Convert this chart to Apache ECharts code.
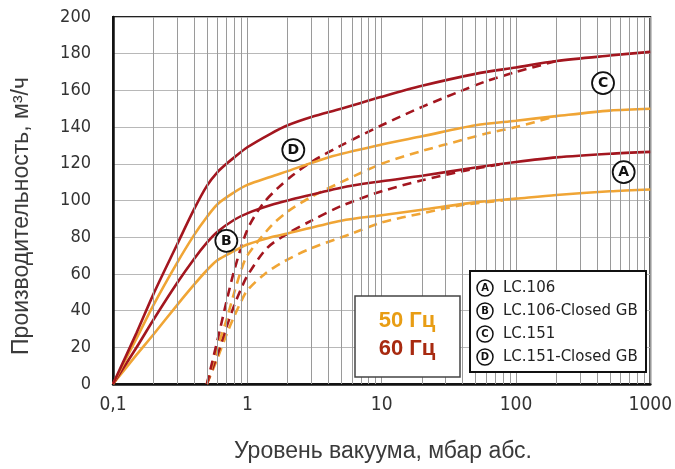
<!DOCTYPE html>
<html>
<head>
<meta charset="utf-8">
<script src="https://cdn.jsdelivr.net/npm/echarts@6.0.0/dist/echarts.min.js"></script>
<style>
    html, body { margin: 0; padding: 0; background: #fff; }
    #main { width: 675px; height: 469px; }
</style>
</head>
<body>
<div id="main"></div>
<script>
    // кривые производительности, [давление мбар, м3/ч]
    const lc151_60 = [[0.1,0],[0.15,28],[0.2,49],[0.3,76],[0.4,95],[0.5,108],[0.6,115.5],[0.7,120],[0.8,123.5],[1,129],[1.5,136.5],[2,141],[3,145.5],[5,150],[10,156.5],[20,162.5],[50,169],[100,172.5],[200,176],[500,179],[1000,181]];
    const lc151_50 = [[0.1,0],[0.15,25],[0.2,43],[0.3,66],[0.4,81],[0.5,91],[0.6,98],[0.8,104.5],[1,108.5],[1.5,113],[2,116],[4,123.5],[10,130.5],[20,135],[50,141],[100,143.5],[200,146],[500,149],[1000,150]];
    const lc106_60 = [[0.1,0],[0.15,20],[0.2,35],[0.3,55],[0.4,68],[0.5,77],[0.6,83],[0.8,89.5],[1,93],[1.5,97.5],[2,100],[5,107],[10,110.5],[20,113.5],[50,118],[100,121],[200,123.5],[500,125.5],[1000,126.5]];
    const lc106_50 = [[0.1,0],[0.15,16],[0.2,27],[0.3,43],[0.4,54],[0.5,62],[0.6,67.5],[0.8,72.5],[1,76],[1.5,80],[2,82],[5,89],[10,92],[20,95],[50,99],[100,101],[200,103],[500,105],[1000,106]];
    // Closed GB (пунктир)
    const lc151gb_60 = [[0.5,0],[0.6,24],[0.7,45],[0.8,62],[1,84],[1.3,98],[1.7,107],[2.2,114],[3,121],[5,130],[10,141],[20,151],[40,160],[60,165],[100,170],[200,176]];
    const lc151gb_50 = [[0.5,0],[0.6,20],[0.7,35],[0.8,50],[0.9,62],[1,70],[1.5,86],[2,94],[3,102],[5,110],[10,120],[20,127],[40,133],[60,136.5],[100,140],[200,146]];
    const lc106gb_60 = [[0.5,0],[0.6,16],[0.7,31],[0.8,43],[0.9,52],[1,59],[1.4,74],[2,82],[3,89],[5,97],[10,105],[20,111],[40,116],[80,120]];
    const lc106gb_50 = [[0.5,0],[0.6,14],[0.7,27],[0.8,37],[0.9,45],[1,51],[1.35,60],[1.9,67],[3,74],[6,82],[10,88],[20,93],[40,97.5],[80,100]];

    const minorGrid = [0.2,0.3,0.4,0.5,0.6,0.7,0.8,0.9,2,3,4,5,6,7,8,9,20,30,40,50,60,70,80,90,200,300,400,500,600,700,800,900];
    const circleMarks = [['A',634,115.5],['B',0.698,78],['C',445,164],['D',2.2,127.5]];
    const legendLetters = ['A','B','C','D'];
    const legendNames = ['LC.106','LC.106-Closed GB','LC.151','LC.151-Closed GB'];
    const freqLabels = ['50 Гц','60 Гц'];

    const colors = { hz50: '#f0a535', hz60: '#a3161f' };
    const numFont = "'DejaVu Sans Condensed', 'Liberation Sans', sans-serif";
    const textFont = "'Liberation Sans', 'DejaVu Sans', sans-serif";

    const myChart = echarts.init(document.getElementById('main'));

    const curves = [
        { data: lc106gb_50, color: colors.hz50, dashed: true },
        { data: lc106gb_60, color: colors.hz60, dashed: true },
        { data: lc151gb_50, color: colors.hz50, dashed: true },
        { data: lc151gb_60, color: colors.hz60, dashed: true },
        { data: lc106_50, color: colors.hz50, dashed: false },
        { data: lc106_60, color: colors.hz60, dashed: false },
        { data: lc151_50, color: colors.hz50, dashed: false },
        { data: lc151_60, color: colors.hz60, dashed: false }
    ];

    const option = {
        animation: false,
        grid: {
            left: 113, right: 17, top: 17, bottom: 85,
            show: true,
            borderColor: '#222',
            borderWidth: 2
        },
        xAxis: {
            type: 'log',
            logBase: 10,
            min: 0.1,
            max: 1000,
            axisLine: { lineStyle: { color: '#111', width: 2.5 } },
            axisTick: { show: false },
            axisLabel: {
                margin: 12,
                fontFamily: numFont,
                fontSize: 19,
                color: '#333',
                formatter: function (v) {
                    return v < 1 ? String(v).replace('.', ',') : String(v);
                }
            },
            splitLine: { lineStyle: { color: '#999', width: 1 } }
        },
        yAxis: {
            type: 'value',
            min: 0,
            max: 200,
            interval: 20,
            axisLine: { show: true, lineStyle: { color: '#111', width: 2.5 } },
            axisTick: { show: false },
            axisLabel: {
                margin: 22,
                fontFamily: numFont,
                fontSize: 18,
                color: '#333'
            },
            splitLine: { lineStyle: { color: '#b8b8b8', width: 1 } }
        },
        series: [
            {
                // дополнительные вертикальные линии сетки
                name: 'minor',
                type: 'line',
                data: [],
                z: 1,
                silent: true,
                markLine: {
                    silent: true,
                    symbol: 'none',
                    label: { show: false },
                    lineStyle: { color: '#9a9a9a', type: 'solid', width: 1 },
                    data: minorGrid.map(v => ({ xAxis: v }))
                }
            }
        ],
        graphic: []
    };

    for (let i = 0; i < curves.length; i++) {
        const c = curves[i];
        option.series.push({
            type: 'line',
            data: c.data,
            showSymbol: false,
            smooth: 0.3,
            z: c.dashed ? 3 : 4,
            lineStyle: {
                color: c.color,
                width: 2.6,
                type: c.dashed ? [9, 6] : 'solid'
            }
        });
    }

    // буквы на кривых
    option.series.push({
        type: 'line',
        data: [],
        z: 6,
        markPoint: {
            symbol: 'circle',
            symbolSize: 22,
            itemStyle: { color: '#fff', borderColor: '#111', borderWidth: 1.8 },
            label: { show: true, color: '#111', fontSize: 14, fontWeight: 'bold', fontFamily: 'DejaVu Sans' },
            data: circleMarks.map(m => ({ coord: [m[1], m[2]], value: m[0] }))
        }
    });

    // подписи осей
    option.graphic.push({
        type: 'text',
        x: 22, y: 216,
        rotation: Math.PI / 2,
        style: {
            text: 'Производительность, м³/ч',
            fontFamily: textFont, fontSize: 23, fill: '#3a3a3a',
            align: 'center', verticalAlign: 'middle'
        }
    });
    option.graphic.push({
        type: 'text',
        x: 383, y: 452,
        style: {
            text: 'Уровень вакуума, мбар абс.',
            fontFamily: textFont, fontSize: 23, fill: '#3a3a3a',
            align: 'center', verticalAlign: 'middle'
        }
    });

    // блок 50/60 Гц
    option.graphic.push({
        type: 'group', x: 355, y: 296,
        children: [
            { type: 'rect', z: 100, shape: { x: 0, y: 0, width: 105, height: 81 }, style: { fill: '#fff', stroke: '#444', lineWidth: 1.5 } },
            { type: 'text', z: 101, x: 52, y: 25, style: { text: freqLabels[0], fill: '#e89d14', fontFamily: textFont, fontWeight: 'bold', fontSize: 22, align: 'center', verticalAlign: 'middle' } },
            { type: 'text', z: 101, x: 52, y: 53, style: { text: freqLabels[1], fill: '#a82a10', fontFamily: textFont, fontWeight: 'bold', fontSize: 22, align: 'center', verticalAlign: 'middle' } }
        ]
    });

    // легенда
    const legendChildren = [
        { type: 'rect', z: 100, shape: { x: 0, y: 0, width: 176, height: 101 }, style: { fill: '#fff', stroke: '#111', lineWidth: 2 } }
    ];
    for (let i = 0; i < legendLetters.length; i++) {
        const cy = 17 + 23 * i;
        legendChildren.push({ type: 'circle', z: 101, shape: { cx: 15, cy: cy, r: 8 }, style: { fill: '#fff', stroke: '#111', lineWidth: 1.5 } });
        legendChildren.push({ type: 'text', z: 102, x: 15, y: cy, style: { text: legendLetters[i], fill: '#111', fontFamily: 'DejaVu Sans', fontWeight: 'bold', fontSize: 10, align: 'center', verticalAlign: 'middle' } });
        legendChildren.push({ type: 'text', z: 102, x: 33, y: cy, style: { text: legendNames[i], fill: '#222', fontFamily: 'DejaVu Sans', fontSize: 15, align: 'left', verticalAlign: 'middle' } });
    }
    option.graphic.push({ type: 'group', x: 470, y: 271, children: legendChildren });

    myChart.setOption(option);
</script>
</body>
</html>
